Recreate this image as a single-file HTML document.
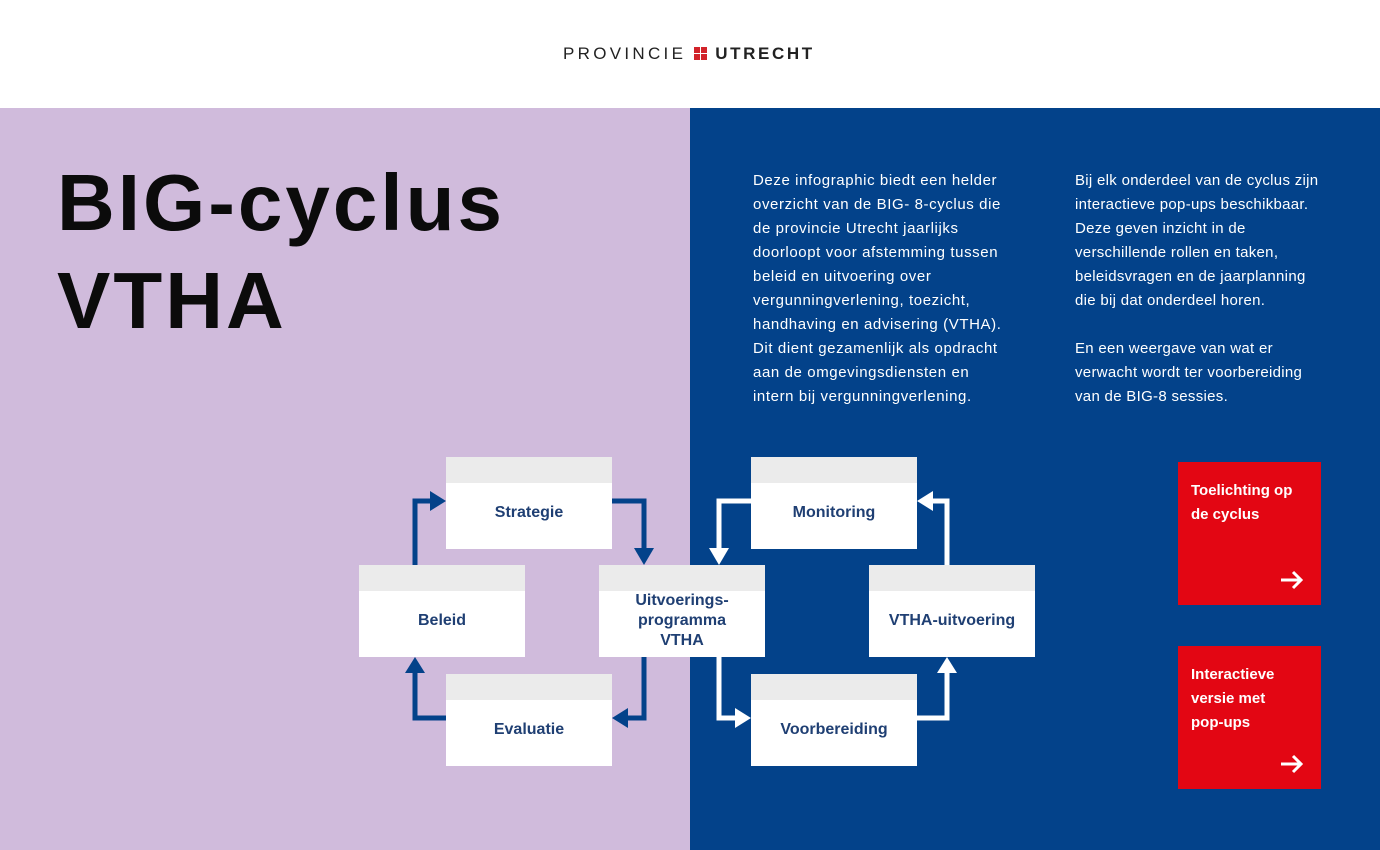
<!DOCTYPE html>
<html><head><meta charset="utf-8"><style>
*{margin:0;padding:0;box-sizing:border-box}
body{width:1380px;height:850px;overflow:hidden;background:#fff;font-family:"Liberation Sans",sans-serif;position:relative}
.abs{position:absolute}
.logo{left:563px;top:44px;font-size:17px;letter-spacing:3.3px;color:#222;white-space:nowrap}
.logo b{letter-spacing:2.6px}
.left{left:0;top:108px;width:690px;height:742px;background:#d0bbdc}
.right{left:690px;top:108px;width:690px;height:742px;background:#03428a}
h1{position:absolute;left:57px;top:154px;font-size:80px;line-height:98px;font-weight:bold;color:#0b0b0b;letter-spacing:3px}
.p{color:#fff;font-size:15px;line-height:24px;white-space:nowrap;letter-spacing:0.6px}
.box{position:absolute;width:166px;height:92px;background:#fff;border-top:26px solid #ebebeb;color:#1f3f73;font-size:16px;font-weight:bold;display:flex;align-items:center;justify-content:center;text-align:center;line-height:20px;padding-bottom:6px}
.btn{position:absolute;left:1178px;width:143px;height:143px;background:#e30613;color:#fff;font-weight:bold;font-size:15px;line-height:24px;padding:17px 13px}
.btn svg{position:absolute;left:101px;top:108px}
</style></head><body>
<div class="abs logo">PROVINCIE <span style="display:inline-block;width:13px;height:13px;vertical-align:-1px;background:
linear-gradient(#fff,#fff) 6px 0/1px 13px no-repeat,linear-gradient(#fff,#fff) 0 6px/13px 1px no-repeat,#d2232a"></span> <b>UTRECHT</b></div>
<div class="abs left"></div>
<div class="abs right"></div>
<h1>BIG-cyclus<br>VTHA</h1>
<div class="abs p" style="left:753px;top:169px">Deze infographic biedt een helder<br>overzicht van de BIG- 8-cyclus die<br>de provincie Utrecht jaarlijks<br>doorloopt voor afstemming tussen<br>beleid en uitvoering over<br>vergunningverlening, toezicht,<br>handhaving en advisering (VTHA).<br>Dit dient gezamenlijk als opdracht<br>aan de omgevingsdiensten en<br>intern bij vergunningverlening.</div>
<div class="abs p" style="left:1075px;top:169px;letter-spacing:0.3px">Bij elk onderdeel van de cyclus zijn<br>interactieve pop-ups beschikbaar.<br>Deze geven inzicht in de<br>verschillende rollen en taken,<br>beleidsvragen en de jaarplanning<br>die bij dat onderdeel horen.<br><br>En een weergave van wat er<br>verwacht wordt ter voorbereiding<br>van de BIG-8 sessies.</div>
<svg class="abs" style="left:0;top:0" width="1380" height="850">
<g fill="none" stroke-width="5" stroke-linejoin="miter">
<polyline stroke="#03428a" points="415,565 415,501 434,501"/>
<polyline stroke="#03428a" points="612,501 644,501 644,552"/>
<polyline stroke="#03428a" points="644,657 644,718 626,718"/>
<polyline stroke="#03428a" points="446,718 415,718 415,670"/>
<polyline stroke="#fff" points="751,501 719,501 719,552"/>
<polyline stroke="#fff" points="719,657 719,718 738,718"/>
<polyline stroke="#fff" points="917,718 947,718 947,670"/>
<polyline stroke="#fff" points="947,565 947,501 930,501"/>
</g>
<g fill="#03428a">
<polygon points="430,491 446,501 430,511"/>
<polygon points="634,548 654,548 644,565"/>
<polygon points="628,708 612,718 628,728"/>
<polygon points="405,673 425,673 415,657"/>
</g>
<g fill="#fff">
<polygon points="709,548 729,548 719,565"/>
<polygon points="735,708 751,718 735,728"/>
<polygon points="937,673 957,673 947,657"/>
<polygon points="933,491 917,501 933,511"/>
</g>
</svg>
<div class="box" style="left:446px;top:457px">Strategie</div>
<div class="box" style="left:359px;top:565px">Beleid</div>
<div class="box" style="left:599px;top:565px">Uitvoerings-<br>programma<br>VTHA</div>
<div class="box" style="left:446px;top:674px">Evaluatie</div>
<div class="box" style="left:751px;top:457px">Monitoring</div>
<div class="box" style="left:869px;top:565px">VTHA-uitvoering</div>
<div class="box" style="left:751px;top:674px">Voorbereiding</div>
<div class="btn" style="top:462px">Toelichting op<br>de cyclus<svg width="26" height="20"><path d="M2 10H22M14 2L22 10L14 18" stroke="#fff" stroke-width="3" fill="none"/></svg></div>
<div class="btn" style="top:646px">Interactieve<br>versie met<br>pop-ups<svg width="26" height="20"><path d="M2 10H22M14 2L22 10L14 18" stroke="#fff" stroke-width="3" fill="none"/></svg></div>
</body></html>
